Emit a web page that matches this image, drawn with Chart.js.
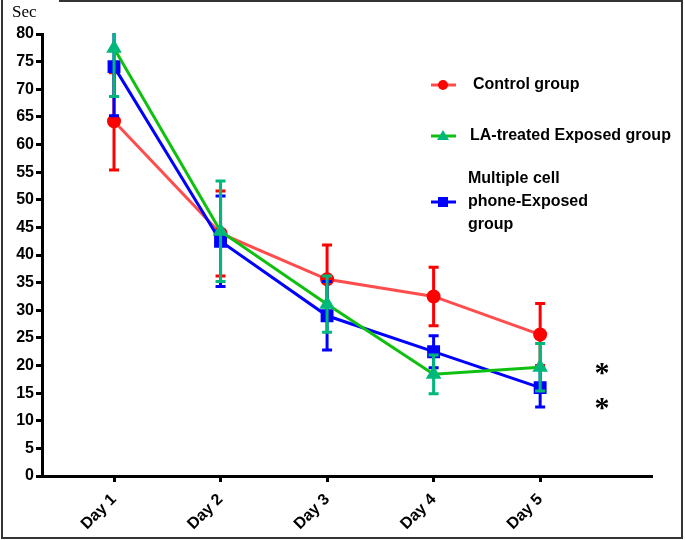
<!DOCTYPE html>
<html>
<head>
<meta charset="utf-8">
<script src="https://cdn.jsdelivr.net/npm/chart.js@4/dist/chart.umd.min.js"></script>
<style>
  html, body { margin: 0; padding: 0; background: #fff; }
  #wrap { width: 685px; height: 540px; position: relative; }
</style>
</head>
<body>
<div id="wrap"><canvas id="chart"></canvas></div>
<script>
const days = ['Day 1', 'Day 2', 'Day 3', 'Day 4', 'Day 5'];
const yTicks = [0, 5, 10, 15, 20, 25, 30, 35, 40, 45, 50, 55, 60, 65, 70, 75, 80];

const controlMean = [64.2, 43.9, 35.6, 32.5, 25.6];
const controlSem = [8.8, 7.7, 6.2, 5.3, 5.6];
const laMean = [77.4, 44.3, 31.1, 18.4, 19.7];
const laSem = [8.7, 9.1, 5.1, 3.5, 4.3];
const phoneMean = [74.1, 42.5, 29.0, 22.5, 16.0];
const phoneSem = [8.9, 8.2, 6.2, 2.9, 3.5];

// significance marks next to Day 5
const starX = [5.58, 5.58];
const starY = [19.7, 13.4];

function toPoints(values) {
  return values.map((v, i) => ({ x: i + 1, y: v }));
}

const errorBars = {
  id: 'errorBars',
  beforeDatasetDraw(chart, args) {
    const ds = chart.data.datasets[args.index];
    if (!ds.sem) return;
    const ctx = chart.ctx;
    const y = chart.scales.y;
    const area = chart.chartArea;
    ctx.save();
    ctx.beginPath();
    ctx.rect(area.left, area.top - 1, area.right - area.left, area.bottom - area.top + 2);
    ctx.clip();
    ctx.strokeStyle = ds.barColor;
    ctx.lineWidth = 3;
    args.meta.data.forEach((pt, i) => {
      const top = y.getPixelForValue(ds.data[i].y + ds.sem[i]);
      const bot = y.getPixelForValue(ds.data[i].y - ds.sem[i]);
      ctx.beginPath();
      ctx.moveTo(pt.x, top);
      ctx.lineTo(pt.x, bot);
      ctx.moveTo(pt.x - 5, top);
      ctx.lineTo(pt.x + 5, top);
      ctx.moveTo(pt.x - 5, bot);
      ctx.lineTo(pt.x + 5, bot);
      ctx.stroke();
    });
    ctx.restore();
  }
};

const legendItems = [
  { lines: ['Control group'], line: '#FF4D4D', fill: '#FF0000', shape: 'circle' },
  { lines: ['LA-treated Exposed group'], line: '#10C010', fill: '#00B87A', shape: 'triangle' },
  { lines: ['Multiple cell', 'phone-Exposed', 'group'], line: '#0000FF', fill: '#0000FF', shape: 'rect' }
];

function drawMarker(ctx, shape, x, y, color) {
  ctx.fillStyle = color;
  ctx.beginPath();
  if (shape === 'circle') {
    ctx.arc(x, y, 5, 0, Math.PI * 2);
  } else if (shape === 'triangle') {
    ctx.moveTo(x, y - 6);
    ctx.lineTo(x + 6, y + 4);
    ctx.lineTo(x - 6, y + 4);
    ctx.closePath();
  } else {
    ctx.rect(x - 5, y - 5, 10, 10);
  }
  ctx.fill();
}

const decorations = {
  id: 'decorations',
  afterDraw(chart) {
    const ctx = chart.ctx;
    const x = chart.scales.x;
    const y = chart.scales.y;
    ctx.save();

    // outer frame
    ctx.strokeStyle = '#333';
    ctx.lineWidth = 2;
    ctx.beginPath();
    ctx.moveTo(59, 1);
    ctx.lineTo(682, 1);
    ctx.lineTo(682, 538);
    ctx.lineTo(2, 538);
    ctx.lineTo(2, 0);
    ctx.stroke();

    // unit label
    ctx.fillStyle = '#000';
    ctx.font = '17px "Liberation Serif", serif';
    ctx.textAlign = 'left';
    ctx.textBaseline = 'middle';
    ctx.fillText('Sec', 12, 13);

    // legend
    const rows = [85, 136, 202];
    const textX = [473, 470, 468];
    legendItems.forEach((item, i) => {
      const cy = rows[i];
      ctx.strokeStyle = item.line;
      ctx.lineWidth = 3;
      ctx.beginPath();
      ctx.moveTo(431, cy);
      ctx.lineTo(456, cy);
      ctx.stroke();
      drawMarker(ctx, item.shape, 443, cy, item.fill);
      ctx.fillStyle = '#000';
      ctx.font = 'bold 16px "Liberation Sans", Arial, sans-serif';
      ctx.textAlign = 'left';
      ctx.textBaseline = 'middle';
      const n = item.lines.length;
      item.lines.forEach((t, k) => {
        ctx.fillText(t, textX[i], cy + (k - (n - 1) / 2) * 23);
      });
    });

    // asterisks
    ctx.font = 'bold 30px "Liberation Serif", serif';
    ctx.textAlign = 'center';
    ctx.textBaseline = 'middle';
    ctx.fillStyle = '#000';
    starX.forEach((sx, i) => {
      ctx.fillText('*', x.getPixelForValue(sx), y.getPixelForValue(starY[i]) + 7);
    });
    ctx.restore();
  }
};

const ctx = document.getElementById('chart').getContext('2d');
new Chart(ctx, {
  type: 'line',
  data: {
    datasets: [
      {
        label: 'Control group',
        data: toPoints(controlMean),
        sem: controlSem,
        barColor: '#FF0000',
        borderColor: '#FF4D4D',
        backgroundColor: '#FF0000',
        pointBorderColor: '#FF0000',
        pointStyle: 'circle',
        pointRadius: 5.5,
        borderWidth: 3,
        order: 2
      },
      {
        label: 'LA-treated Exposed group',
        data: toPoints(laMean),
        sem: laSem,
        barColor: '#00B87A',
        borderColor: '#10C010',
        backgroundColor: '#00B87A',
        pointBorderColor: '#00B87A',
        pointStyle: 'triangle',
        pointRadius: 6,
        borderWidth: 3,
        order: 0
      },
      {
        label: 'Multiple cell phone-Exposed group',
        data: toPoints(phoneMean),
        sem: phoneSem,
        barColor: '#0000FF',
        borderColor: '#0000FF',
        backgroundColor: '#0000FF',
        pointBorderColor: '#0000FF',
        pointStyle: 'rect',
        pointRadius: 7,
        borderWidth: 3,
        order: 1
      }
    ]
  },
  options: {
    responsive: true,
    maintainAspectRatio: false,
    animation: false,
    layout: { padding: { top: 34, right: 33, left: 0, bottom: 0 } },
    plugins: {
      legend: { display: false },
      tooltip: { enabled: false }
    },
    elements: {
      line: { tension: 0 },
      point: { borderWidth: 1 }
    },
    scales: {
      x: {
        type: 'linear',
        min: 0.324,
        max: 6.05,
        afterBuildTicks: function(scale) {
          scale.ticks = days.map((d, i) => ({ value: i + 1 }));
        },
        afterFit: function(scale) { scale.height = 64; },
        ticks: {
          autoSkip: false,
          minRotation: 45,
          maxRotation: 45,
          padding: 8,
          color: '#000',
          font: { family: '"Liberation Sans", Arial, sans-serif', size: 16, weight: 'bold' },
          callback: function(value) { return days[value - 1]; }
        },
        grid: { drawOnChartArea: false, drawTicks: true, tickLength: 6, tickWidth: 3, tickColor: '#000' },
        border: { display: true, width: 3, color: '#000' }
      },
      y: {
        min: 0,
        max: 80,
        afterBuildTicks: function(scale) {
          scale.ticks = yTicks.map(v => ({ value: v }));
        },
        afterFit: function(scale) { scale.width = 42; },
        ticks: {
          autoSkip: false,
          padding: 2,
          color: '#000',
          font: { family: '"Liberation Sans", Arial, sans-serif', size: 16, weight: 'bold' }
        },
        grid: { drawOnChartArea: false, drawTicks: true, tickLength: 6, tickWidth: 3, tickColor: '#000' },
        border: { display: true, width: 3, color: '#000' }
      }
    }
  },
  plugins: [errorBars, decorations]
});
</script>
</body>
</html>
